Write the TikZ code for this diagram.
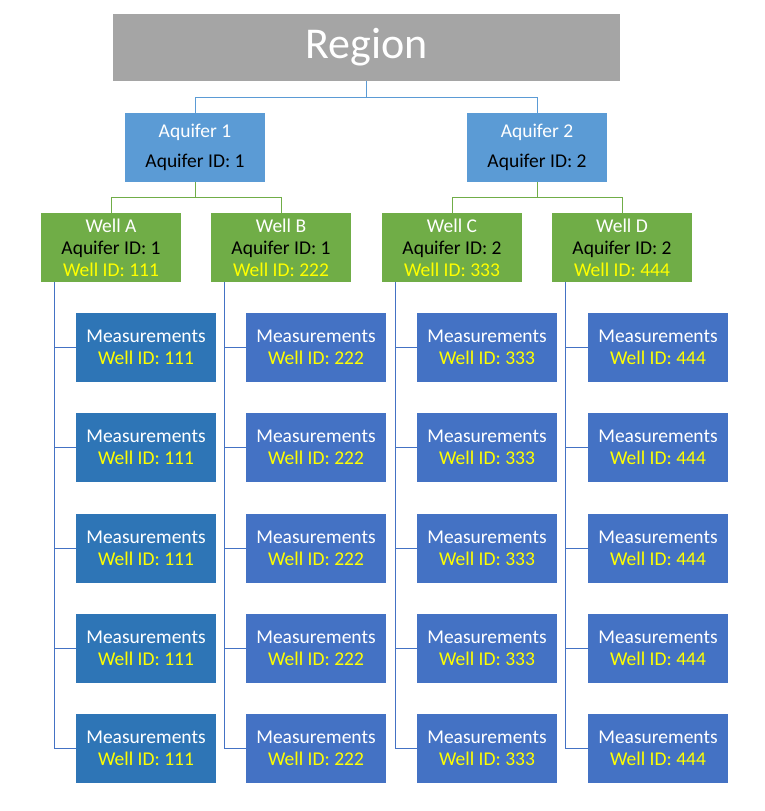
\documentclass[tikz,border=0pt]{standalone}
\usepackage{fontspec}
\setmainfont{Carlito}
\definecolor{regiongray}{HTML}{A5A5A5}
\definecolor{aqblue}{HTML}{5B9BD5}
\definecolor{wellgreen}{HTML}{70AD47}
\definecolor{measblue}{HTML}{4472C4}
\definecolor{measblueA}{HTML}{2E75B6}
\definecolor{idyellow}{HTML}{FFFF00}
\begin{document}
\begin{tikzpicture}[x=1pt,y=-1pt,
  box/.style={inner sep=0pt, minimum width=140pt, minimum height=69pt, align=center, text=white, font=\fontsize{19.5}{22}\selectfont},
  regionbox/.style={box, fill=regiongray, minimum width=507pt, minimum height=67pt, font=\fontsize{44}{50}\selectfont},
  aqbox/.style={box, fill=aqblue, font=\fontsize{19.5}{30}\selectfont},
  wellbox/.style={box, fill=wellgreen},
  measbox/.style={box},
  lineblue/.style={draw=aqblue, line width=1pt},
  linegreen/.style={draw=wellgreen, line width=1pt},
  linemeas/.style={draw=measblue, line width=1pt}]
\useasboundingbox (0,0) rectangle (765,811);
\node[regionbox] (reg) at (366.5,47.5) {Region};
\node[aqbox] (aq1) at (195,147.5) {Aquifer 1\\\textcolor{black}{Aquifer ID: 1}};
\node[aqbox] (aq2) at (537,147.5) {Aquifer 2\\\textcolor{black}{Aquifer ID: 2}};
\draw[lineblue] (reg.south) -- ++(0,16) -| (aq1.north);
\draw[lineblue] (reg.south) -- ++(0,16) -| (aq2.north);
\foreach \n/\x/\a/\id/\mx/\col in {A/111/1/111/146/measblueA, B/281/1/222/316/measblue, C/452/2/333/487/measblue, D/622/2/444/658/measblue}{
  \node[wellbox] (w\n) at (\x,247.5) {Well \n\\\textcolor{black}{Aquifer ID: \a}\\\textcolor{idyellow}{Well ID: \id}};
  \foreach \i in {1,...,5}{
    \node[measbox, fill=\col] (m\n\i) at (\mx,{347.5+100.25*(\i-1)}) {Measurements\\\textcolor{idyellow}{Well ID: \id}};
    \draw[linemeas] ([xshift=13.5pt]w\n.south west) |- (m\n\i.west);
  }
}
\draw[linegreen] (aq1.south) -- ++(0,15) -| (wA.north);
\draw[linegreen] (aq1.south) -- ++(0,15) -| (wB.north);
\draw[linegreen] (aq2.south) -- ++(0,15) -| (wC.north);
\draw[linegreen] (aq2.south) -- ++(0,15) -| (wD.north);
\end{tikzpicture}
\end{document}
